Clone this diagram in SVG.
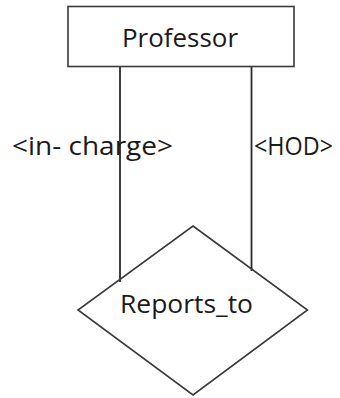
<svg xmlns="http://www.w3.org/2000/svg" width="340" height="398" viewBox="0 0 340 398">
  <style>
    .shape { fill: #ffffff; stroke: #3a3a3a; stroke-width: 1.6; }
    .link { stroke: #2a2a2a; stroke-width: 1.8; fill: none; }
    .label { font-family: "Open Sans", "Noto Sans", "Liberation Sans", sans-serif; font-size: 26px; fill: #1a1a1a; }
  </style>
  <rect width="340" height="398" fill="#ffffff"/>

  <!-- relationship connectors -->
  <g id="connectors">
    <line class="link" x1="120" y1="66.5" x2="120" y2="282"/>
    <line class="link" x1="251.5" y1="66.5" x2="251.5" y2="271" stroke="#4a4a4a"/>
  </g>

  <!-- entity -->
  <g id="professor">
    <rect class="shape" x="68" y="6.5" width="226" height="60"/>
    <text class="label" x="122" y="47" textLength="116" lengthAdjust="spacingAndGlyphs">Professor</text>
  </g>

  <!-- relationship -->
  <g id="reports_to">
    <polygon class="shape" style="fill:none" points="193,226 307.5,310 193,395 78,310"/>
    <text class="label" x="120" y="313" textLength="133" lengthAdjust="spacingAndGlyphs">Reports_to</text>
  </g>

  <!-- role labels -->
  <g id="role-in-charge">
    <text class="label" x="12" y="155" textLength="161" lengthAdjust="spacingAndGlyphs">&lt;in- charge&gt;</text>
  </g>
  <g id="role-hod">
    <text class="label" x="254" y="155" style="font-size:25px" textLength="79" lengthAdjust="spacingAndGlyphs">&lt;HOD&gt;</text>
  </g>
</svg>
